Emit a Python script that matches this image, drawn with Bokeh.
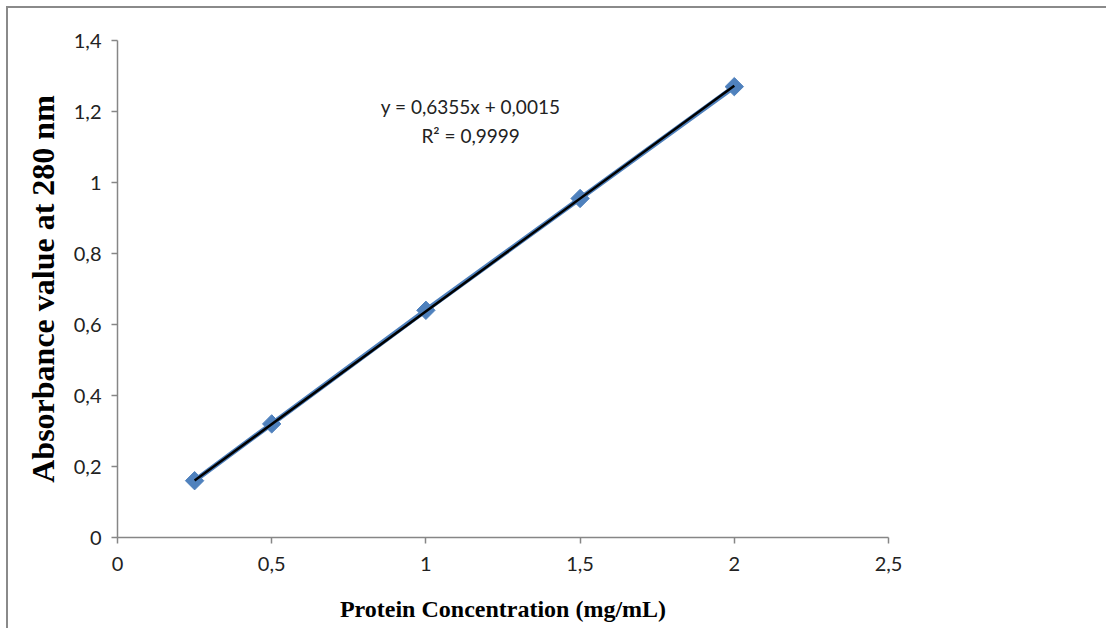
import math
from bokeh.plotting import figure
from bokeh.models import FixedTicker, ColumnDataSource
from bokeh.core.properties import value
from bokeh.embed import file_html
from bokeh.resources import INLINE

# data
conc = [0.25, 0.5, 1.0, 1.5, 2.0]
absorb = [0.16, 0.32, 0.64, 0.955, 1.27]
slope = 0.6355
intercept = 0.0015
eq_text = ["y = 0,6355x + 0,0015", "R² = 0,9999"]
x_ticks = [0, 0.5, 1, 1.5, 2, 2.5]
x_labels = ["0", "0,5", "1", "1,5", "2", "2,5"]
y_ticks = [0, 0.2, 0.4, 0.6, 0.8, 1.0, 1.2, 1.4]
y_labels = ["0", "0,2", "0,4", "0,6", "0,8", "1", "1,2", "1,4"]

TICK_FONT = "Lato"
TITLE_FONT = "Liberation Serif"

p = figure(width=1100, height=622, x_range=(0, 2.5), y_range=(0, 1.4),
           output_backend="svg", toolbar_location=None,
           min_border_left=109, min_border_right=220, min_border_top=32, min_border_bottom=93)
p.styles = {"margin-left": "6px", "margin-top": "6px",
            "border-left": "2px solid #8a8a8a", "border-top": "2px solid #8a8a8a"}
p.outline_line_color = None
p.grid.grid_line_color = None
p.background_fill_color = "white"
p.border_fill_color = "white"

for ax, ticks, labels in ((p.xaxis[0], x_ticks, x_labels), (p.yaxis[0], y_ticks, y_labels)):
    ax.ticker = FixedTicker(ticks=ticks)
    ax.major_label_overrides = {t: l for t, l in zip(ticks, labels)}
    ax.minor_tick_line_color = None
    ax.axis_line_color = "#868686"
    ax.axis_line_width = 1.5
    ax.major_tick_line_color = "#868686"
    ax.major_tick_line_width = 1.5
    ax.major_tick_out = 6
    ax.major_tick_in = 0
    ax.major_label_text_font = TICK_FONT
    ax.major_label_text_font_size = "20px"
    ax.major_label_text_color = "#222222"
    ax.axis_label_text_font = TITLE_FONT
    ax.axis_label_text_font_style = "bold"
    ax.axis_label_text_color = "black"

p.xaxis[0].major_label_standoff = 13
p.yaxis[0].major_label_standoff = 10
p.xaxis[0].axis_label = "Protein Concentration (mg/mL)"
p.xaxis[0].axis_label_text_font_size = "24px"
p.xaxis[0].axis_label_standoff = 22
p.yaxis[0].axis_label = "Absorbance value at 280 nm"
p.yaxis[0].axis_label_text_font_size = "32px"
p.yaxis[0].axis_label_standoff = 10

src = ColumnDataSource(dict(x=conc, y=absorb))
p.line("x", "y", source=src, line_color="#4F81BD", line_width=5)
p.scatter("x", "y", source=src, marker="square", angle=math.pi / 4, size=13,
          fill_color="#4F81BD", line_color="#4F81BD")

tx = [conc[0], conc[-1]]
ty = [slope * v + intercept for v in tx]
p.line(tx, ty, line_color="black", line_width=2.5)

p.text(x=[1.145, 1.145], y=[1.214, 1.132], text=eq_text, text_align="center",
       text_baseline="middle", text_font=value(TICK_FONT), text_font_size="19px",
       text_color="#222222")

open("out.html", "w").write(file_html(p, INLINE))
